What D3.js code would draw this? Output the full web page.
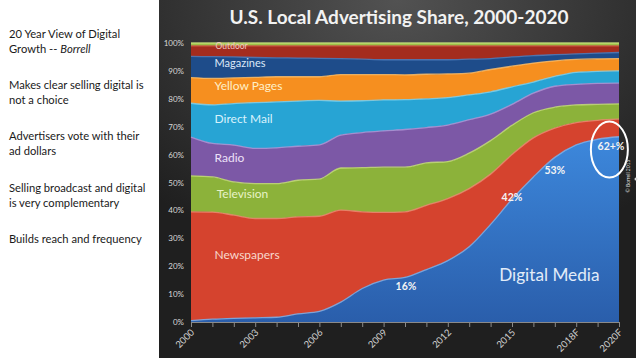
<!DOCTYPE html>
<html>
<head>
<meta charset="utf-8">
<script src="https://cdn.jsdelivr.net/npm/d3@7"></script>
<style>
  body { margin: 0; background: #ffffff; }
  svg { display: block; }
</style>
</head>
<body>
<script>

// years and the share of each medium (percent)
var years = d3.range(2000, 2021);

var digital    = [0.5, 1.0, 1.3, 1.5, 1.7, 2.9, 3.8, 7.1, 12.0, 15.0, 16.0, 18.8, 22.0, 27.0, 35.0, 44.0, 52.0, 59.0, 63.5, 65.5, 66.4];
var newspapers = [39.0, 38.4, 37.0, 35.6, 35.4, 34.8, 34.1, 33.0, 27.5, 24.3, 23.5, 23.0, 22.2, 20.8, 18.0, 16.0, 14.0, 10.5, 8.0, 6.8, 6.3];
var television = [12.9, 12.6, 11.9, 12.5, 12.5, 13.1, 13.3, 15.1, 15.8, 16.2, 16.0, 15.2, 13.3, 12.7, 12.0, 10.5, 9.0, 7.5, 6.3, 5.7, 5.5];
var radio      = [13.9, 12.0, 13.2, 12.6, 12.8, 12.2, 12.3, 11.8, 12.6, 13.0, 13.5, 12.7, 13.1, 12.0, 9.5, 7.5, 7.0, 7.5, 7.4, 7.5, 7.4];
var directMail = [12.1, 13.8, 14.9, 16.4, 16.5, 16.2, 15.9, 12.2, 11.4, 11.1, 10.7, 10.3, 9.8, 8.9, 8.0, 6.3, 4.0, 3.5, 4.3, 4.3, 4.4];
var yellowPages= [9.2, 9.5, 9.2, 9.1, 9.0, 8.7, 8.5, 9.5, 9.4, 9.1, 8.9, 8.8, 8.5, 7.8, 8.0, 7.4, 6.8, 5.6, 4.6, 4.5, 4.4];
var magazines  = [7.6, 7.8, 7.5, 7.1, 6.8, 6.7, 6.6, 5.7, 5.5, 5.3, 5.4, 5.2, 5.1, 5.0, 3.9, 3.3, 2.7, 2.2, 2.0, 2.1, 2.2];
var outdoor    = [3.8, 3.9, 4.0, 4.2, 4.3, 4.4, 4.5, 4.6, 4.8, 5.0, 5.0, 5.0, 5.0, 4.8, 4.6, 4.0, 3.5, 3.2, 2.9, 2.6, 2.4];
var other      = [1.0, 1.0, 1.0, 1.0, 1.0, 1.0, 1.0, 1.0, 1.0, 1.0, 1.0, 1.0, 1.0, 1.0, 1.0, 1.0, 1.0, 1.0, 1.0, 1.0, 1.0];

var seriesNames = ["Digital Media", "Newspapers", "Television", "Radio", "Direct Mail", "Yellow Pages", "Magazines", "Outdoor", "Other"];
var seriesValues = [digital, newspapers, television, radio, directMail, yellowPages, magazines, outdoor, other];

var tickYears  = [2000, 2003, 2006, 2009, 2012, 2015, 2018, 2020];
var tickLabels = ["2000", "2003", "2006", "2009", "2012", "2015", "2018F", "2020F"];
var yTicks = [0, 10, 20, 30, 40, 50, 60, 70, 80, 90, 100];

// callouts on the digital line
var calloutYears  = [2010, 2015, 2017, 2020];
var calloutLabels = ["16%", "42%", "53%", "62+%"];

var bullets = [
  ["20 Year View of Digital", "Growth -- |Borrell"],
  ["Makes clear selling digital is", "not a choice"],
  ["Advertisers vote with their", "ad dollars"],
  ["Selling broadcast and digital", "is very complementary"],
  ["Builds reach and frequency"]
];
var bulletY = [38, 89, 140, 192, 243];

var fills   = ["#3a7fd3", "#d5432e", "#8cb23a", "#7c58a6", "#27a4d4", "#f68f1f", "#1e4c8a", "#a42c1e", "#9dc048"];
var edges   = ["#7fb4ee", "#f08a72", "#c8e07a", "#b496d8", "#7fd4f2", "#ffc06a", "#4f7fc0", "#d8604a", "#c8e07a"];

var svg = d3.select("body").append("svg")
            .attr("width", 640)
            .attr("height", 360)
            .style("font-family", "Lato, 'Open Sans', sans-serif");

var defs = svg.append("defs");

var bg = defs.append("radialGradient")
             .attr("id", "bg")
             .attr("cx", "50%").attr("cy", "0%").attr("r", "75%");
bg.append("stop").attr("offset", "0%").attr("stop-color", "#525252");
bg.append("stop").attr("offset", "100%").attr("stop-color", "#1f1f1f");

var blueGrad = defs.append("linearGradient")
                   .attr("id", "blueGrad")
                   .attr("x1", 0).attr("y1", 0).attr("x2", 0).attr("y2", 1);
blueGrad.append("stop").attr("offset", "0%").attr("stop-color", "#3d88dc");
blueGrad.append("stop").attr("offset", "100%").attr("stop-color", "#2a5eab");

// left text column
var notes = svg.append("g").attr("font-size", 11.2).attr("fill", "#1a1a1a");
bullets.forEach(function(lines, i) {
  lines.forEach(function(line, j) {
    var t = notes.append("text")
                 .attr("x", 9)
                 .attr("y", bulletY[i] + j * 14.5);
    var parts = line.split("|");
    t.append("tspan").text(parts[0]);
    if (parts.length > 1) {
      t.append("tspan").attr("font-style", "italic").text(parts[1]);
    }
  });
});

// dark chart panel
svg.append("rect")
   .attr("x", 159).attr("y", 0)
   .attr("width", 477).attr("height", 358)
   .attr("fill", "url(#bg)");

svg.append("text")
   .attr("x", 399).attr("y", 24)
   .attr("text-anchor", "middle")
   .attr("font-size", 19)
   .attr("font-weight", "bold")
   .attr("fill", "#f2f2f2")
   .text("U.S. Local Advertising Share, 2000-2020");

var margin = {left: 191, right: 21, top: 43, bottom: 38};
var width = 640 - margin.left - margin.right;
var height = 360 - margin.top - margin.bottom;

var x = d3.scaleLinear().domain([2000, 2020]).range([0, width]);
var y = d3.scaleLinear().domain([0, 100]).range([height, 0]);

var g = svg.append("g")
           .attr("transform", "translate(" + margin.left + "," + margin.top + ")");

g.append("rect")
 .attr("width", width).attr("height", height)
 .attr("fill", "#1a1a1a");

var table = years.map(function(yr, i) {
  var row = {year: yr};
  seriesNames.forEach(function(name, k) { row[name] = seriesValues[k][i]; });
  return row;
});

var stack = d3.stack().keys(seriesNames);
var layers = stack(table);

var area = d3.area()
             .curve(d3.curveMonotoneX)
             .x(function(d) { return x(d.data.year); })
             .y0(function(d) { return y(d[0]); })
             .y1(function(d) { return y(d[1]); });

var topLine = d3.line()
                .curve(d3.curveMonotoneX)
                .x(function(d) { return x(d.data.year); })
                .y(function(d) { return y(d[1]); });

g.selectAll(".layer")
 .data(layers)
 .enter().append("path")
 .attr("class", "layer")
 .attr("d", area)
 .attr("fill", function(d, i) { return i == 0 ? "url(#blueGrad)" : fills[i]; });

g.selectAll(".edge")
 .data(layers)
 .enter().append("path")
 .attr("class", "edge")
 .attr("d", topLine)
 .attr("fill", "none")
 .attr("stroke", function(d, i) { return edges[i]; })
 .attr("stroke-width", 1.3)
 .attr("opacity", 0.85);

// y axis labels
g.selectAll(".ylab")
 .data(yTicks)
 .enter().append("text")
 .attr("class", "ylab")
 .attr("x", -7)
 .attr("y", function(d) { return y(d) + 3; })
 .attr("text-anchor", "end")
 .attr("font-size", 8)
 .attr("fill", "#d8d8d8")
 .text(function(d) { return d + "%"; });

// x axis
var xAxis = d3.axisBottom(x)
              .tickValues(years)
              .tickSize(5)
              .tickFormat("");
var ax = g.append("g")
          .attr("transform", "translate(0," + height + ")")
          .call(xAxis);
ax.select(".domain").attr("stroke", "#8a8a8a");
ax.selectAll(".tick line").attr("stroke", "#8a8a8a");

g.selectAll(".xlab")
 .data(tickYears)
 .enter().append("text")
 .attr("class", "xlab")
 .attr("text-anchor", "end")
 .attr("font-size", 9.5)
 .attr("fill", "#d0d0d0")
 .attr("transform", function(d) {
   return "translate(" + (x(d) + 4) + "," + (height + 11) + ") rotate(-45)";
 })
 .text(function(d, i) { return tickLabels[i]; });

// layer names
var layerLabels = [
  {name: "Newspapers", yr: 2001.1, v: 22.5, size: 12, color: "#f8d8cc"},
  {name: "Television", yr: 2001.2, v: 44.5, size: 12, color: "#e8f2c8"},
  {name: "Radio", yr: 2001.1, v: 57.5, size: 12, color: "#ece0f8"},
  {name: "Direct Mail", yr: 2001.1, v: 71.3, size: 12, color: "#d8f2fc"},
  {name: "Yellow Pages", yr: 2001.1, v: 83.2, size: 12, color: "#fff0c8"},
  {name: "Magazines", yr: 2001.1, v: 91.3, size: 11, color: "#dce8f8"},
  {name: "Outdoor", yr: 2001.15, v: 97.8, size: 8.5, color: "#f0c8c0"}
];
g.selectAll(".lname")
 .data(layerLabels)
 .enter().append("text")
 .attr("class", "lname")
 .attr("x", function(d) { return x(d.yr); })
 .attr("y", function(d) { return y(d.v); })
 .attr("font-size", function(d) { return d.size; })
 .attr("fill", function(d) { return d.color; })
 .text(function(d) { return d.name; });

g.append("text")
 .attr("x", x(14.4 + 2000)).attr("y", y(14.6))
 .attr("font-size", 17.2)
 .attr("fill", "#e2ecf8")
 .text("Digital Media");

// callouts
var calloutPos = [{dx: 1, dy: 13}, {dx: 0, dy: 2}, {dx: 0, dy: 17}, {dx: -8, dy: 13}];
g.selectAll(".callout")
 .data(calloutYears)
 .enter().append("text")
 .attr("class", "callout")
 .attr("x", function(d, i) { return x(d) + calloutPos[i].dx; })
 .attr("y", function(d, i) { return y(digital[years.indexOf(d)]) + calloutPos[i].dy; })
 .attr("text-anchor", "middle")
 .attr("font-size", 10.5)
 .attr("font-weight", "bold")
 .attr("fill", "#f4f4f4")
 .text(function(d, i) { return calloutLabels[i]; });

g.append("ellipse")
 .attr("cx", x(2019.55)).attr("cy", y(61.8))
 .attr("rx", 18.5).attr("ry", 28)
 .attr("fill", "none")
 .attr("stroke", "#ffffff")
 .attr("stroke-width", 2);

// copyright
svg.append("text")
   .attr("transform", "translate(630,176) rotate(-90)")
   .attr("text-anchor", "middle")
   .attr("font-size", 5)
   .attr("fill", "#dddddd")
   .text("© Borrell 2015");

svg.append("circle")
   .attr("cx", 636).attr("cy", 179).attr("r", 1.5)
   .attr("fill", "#dddddd");

</script>
</body>
</html>
